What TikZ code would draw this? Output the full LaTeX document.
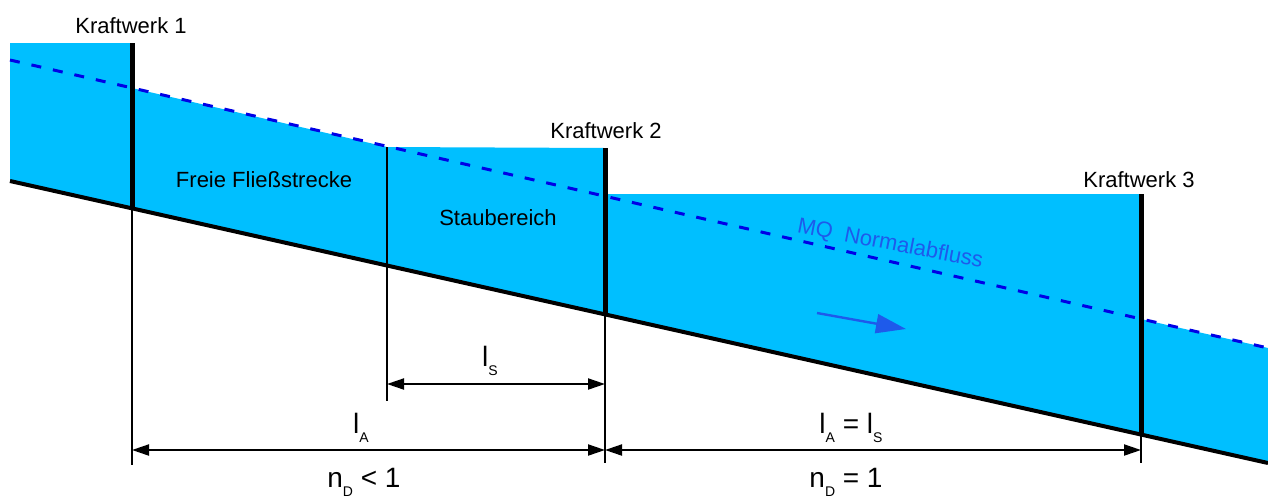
\documentclass[tikz,border=0pt]{standalone}
\usepackage{fontspec}
\setmainfont{Liberation Sans}
\usetikzlibrary{arrows.meta,calc}
\definecolor{waterblue}{RGB}{0,191,255}
\definecolor{mqblue}{RGB}{0,0,230}
\definecolor{flowblue}{RGB}{30,90,235}
\newcommand{\lowsub}[1]{\raisebox{-4.8pt}{\fontsize{7}{8}\selectfont #1}}

\begin{document}
\begin{tikzpicture}[x=0.5pt,y=-0.5pt,
   water/.style={fill=waterblue, draw=none},
   wall/.style={line width=2.5pt},
   bedline/.style={line width=2pt},
   normline/.style={draw=mqblue, line width=1.5pt, dash pattern=on 5pt off 6pt},
   thinline/.style={line width=1pt},
   dimline/.style={line width=1pt,
                   {Triangle[length=8.5pt,width=5.5pt]}-{Triangle[length=8.5pt,width=5.5pt]}},
   lbl/.style={anchor=base, inner sep=0pt, font=\fontsize{11}{13}\selectfont},
   dimlbl/.style={anchor=base, inner sep=0pt, font=\fontsize{14}{16}\selectfont},
   flow/.style={draw=flowblue, line width=1.2pt, -{Triangle[length=15pt,width=9.5pt]}}]
  \useasboundingbox[fill=white] (0,0) rectangle (1268,499);
  % walls of the power plants: top and foot on the bed
  \coordinate (kw1top) at (132,43);   \coordinate (kw1bed) at (132,208);
  \coordinate (kw2top) at (605,148);  \coordinate (kw2bed) at (605,315);
  \coordinate (kw3top) at (1141,194); \coordinate (kw3bed) at (1141,435);
  \coordinate (stau) at (387,147);
  \coordinate (bedL) at (10,181);  \coordinate (bedR) at (1268,463);
  \coordinate (mqL) at (10,60);    \coordinate (mqR) at (1268,348);

  % water body
  \fill[water] (10,43) -- (kw1top) -- (132,88) -- (stau) -- (kw2top) -- (605,194)
     -- (kw3top) -- (1141,319) -- (mqR) -- (bedR) -- (bedL) -- cycle;
  \draw[normline] (mqL) -- (mqR);
  \draw[bedline] (bedL) -- (bedR);

  \draw[wall] (kw1top) -- (kw1bed);
  \draw[wall] (kw2top) -- (kw2bed);
  \draw[wall] (kw3top) -- (kw3bed);
  \draw[thinline] (kw1bed) -- (132,465);
  \draw[thinline] (kw2bed) -- (605,463);
  \draw[thinline] (kw3bed) -- (1141,463);
  \draw[thinline] (stau) -- (387,401);

  % dimensions
  \coordinate (dsL) at (387,384);  \coordinate (dsR) at (605,384);
  \coordinate (daL) at (132,450);  \coordinate (daM) at (605,450);
  \coordinate (daR) at (1141,450);
  \draw[dimline] (dsL) -- (dsR);
  \draw[dimline] (daL) -- (daM);
  \draw[dimline] (daM) -- (daR);

  \draw[flow] (817,313) -- (906,329);

  \node[lbl] (kw1) at (131,33) {Kraftwerk 1};
  \node[lbl] (kw2) at (606,138) {Kraftwerk 2};
  \node[lbl] (kw3) at (1139,187) {Kraftwerk 3};
  \node[lbl] (frei) at (264,187) {Freie Fließstrecke};
  \node[lbl] (staub) at (498,225) {Staubereich};
  \node[lbl, text=flowblue, rotate=-11] (mq) at (889,250) {MQ\ \ Normalabfluss};

  \node[dimlbl] (ls) at (490,366) {l\lowsub{S}};
  \node[dimlbl] (la) at (361,433) {l\lowsub{A}};
  \node[dimlbl] (lals) at (851,433) {l\lowsub{A} = l\lowsub{S}};
  \node[dimlbl] (nd1) at (364,487) {n\lowsub{D} < 1};
  \node[dimlbl] (nd2) at (846,487) {n\lowsub{D} = 1};
\end{tikzpicture}
\end{document}
